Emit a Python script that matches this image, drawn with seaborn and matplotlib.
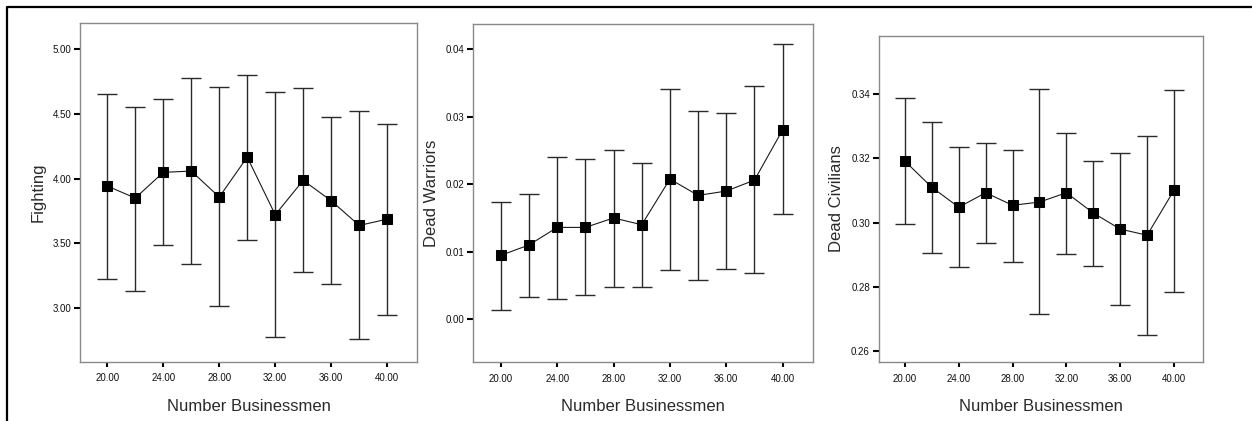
import matplotlib
matplotlib.use("Agg")
import matplotlib.pyplot as plt
import seaborn as sns
import pandas as pd
from matplotlib.lines import Line2D

businessmen = [20, 22, 24, 26, 28, 30, 32, 34, 36, 38, 40]

fighting_mean = [3.942, 3.849, 4.048, 4.058, 3.857, 4.166, 3.720, 3.986, 3.828, 3.637, 3.686]
fighting_low = [3.222, 3.132, 3.485, 3.341, 3.015, 3.524, 2.775, 3.276, 3.186, 2.760, 2.941]
fighting_high = [4.654, 4.556, 4.613, 4.775, 4.711, 4.801, 4.667, 4.703, 4.476, 4.523, 4.422]

warriors_mean = [0.00947, 0.0110, 0.0136, 0.0136, 0.0150, 0.0140, 0.02075, 0.01834, 0.01898, 0.0206, 0.02805]
warriors_low = [0.00142, 0.00335, 0.00305, 0.00355, 0.00478, 0.00478, 0.00725, 0.00586, 0.0074, 0.00685, 0.01562]
warriors_high = [0.0174, 0.01853, 0.02405, 0.0237, 0.02509, 0.02317, 0.0341, 0.03086, 0.03047, 0.03447, 0.0407]

civilians_mean = [0.3191, 0.3110, 0.3048, 0.3093, 0.3054, 0.3064, 0.3093, 0.3030, 0.2980, 0.2961, 0.3101]
civilians_low = [0.2995, 0.2907, 0.2862, 0.2936, 0.2879, 0.2715, 0.2904, 0.2865, 0.2743, 0.2652, 0.2784]
civilians_high = [0.3388, 0.3313, 0.3234, 0.3248, 0.3226, 0.3416, 0.3280, 0.3192, 0.3216, 0.3269, 0.3412]

x_ticks = [20, 24, 28, 32, 36, 40]
x_ticklabels = ["20.00", "24.00", "28.00", "32.00", "36.00", "40.00"]

panels = [
    ("Fighting", fighting_mean, fighting_low, fighting_high,
     [3.0, 3.5, 4.0, 4.5, 5.0], ["3.00", "3.50", "4.00", "4.50", "5.00"]),
    ("Dead Warriors", warriors_mean, warriors_low, warriors_high,
     [0.00, 0.01, 0.02, 0.03, 0.04], ["0.00", "0.01", "0.02", "0.03", "0.04"]),
    ("Dead Civilians", civilians_mean, civilians_low, civilians_high,
     [0.26, 0.28, 0.30, 0.32, 0.34], ["0.26", "0.28", "0.30", "0.32", "0.34"]),
]

sns.set_theme(style="ticks")
plt.rcParams["font.family"] = ["Liberation Sans", "DejaVu Sans"]

W, H = 1252, 421
fig = plt.figure(figsize=(W / 100, H / 100), dpi=100)

# axes boxes in pixels: left, right, top, bottom
boxes = [(80, 417, 23, 361.5), (473.3, 812.7, 24, 361.7), (878.7, 1202.7, 36, 361.7)]
ylims = [(2.584, 5.204), (-0.00627, 0.0437), (0.2568, 0.358)]

for (label, mean, low, high, yt, ytl), (l, r, t, b), yl in zip(panels, boxes, ylims):
    ax = fig.add_axes([l / W, 1 - b / H, (r - l) / W, (b - t) / H])
    df = pd.DataFrame({"x": businessmen, "y": mean})
    yerr = [[m - lo for m, lo in zip(mean, low)], [hi - m for m, hi in zip(mean, high)]]
    ax.errorbar(businessmen, mean, yerr=yerr, fmt="none", ecolor="#2a2a2a",
                elinewidth=1.0, capsize=7.5, capthick=1.0, zorder=2)
    sns.lineplot(data=df, x="x", y="y", ax=ax, color="#1a1a1a", linewidth=0.8,
                 marker="s", markersize=7, markeredgecolor="black",
                 markerfacecolor="black", zorder=3)
    ax.set_xlim(18.05, 42.13)
    ax.set_ylim(*yl)
    ax.set_xticks(x_ticks)
    ax.set_xticklabels(x_ticklabels, fontsize=7, color="#111111")
    ax.set_yticks(yt)
    ax.set_yticklabels(ytl, fontsize=7, color="#111111")
    ax.tick_params(axis="y", length=4.3, width=1.5, color="black", pad=2)
    ax.tick_params(axis="x", length=3.6, width=1.5, color="black", pad=5)
    ax.set_xlabel("Number Businessmen", fontsize=12, color="#2a2a2a", labelpad=11)
    ax.set_ylabel(label, fontsize=12, color="#2a2a2a", labelpad=5)
    for s in ax.spines.values():
        s.set_color("#8a8a8a")
        s.set_linewidth(1.0)
    ax.set_facecolor("white")

# outer frame (left and top edges visible)
fig.add_artist(Line2D([7 / W, 7 / W, 1.0], [0.0, 1 - 7 / H, 1 - 7 / H],
                      transform=fig.transFigure, color="black", linewidth=1.6))

fig.savefig("out.png", dpi=100, facecolor="white")
